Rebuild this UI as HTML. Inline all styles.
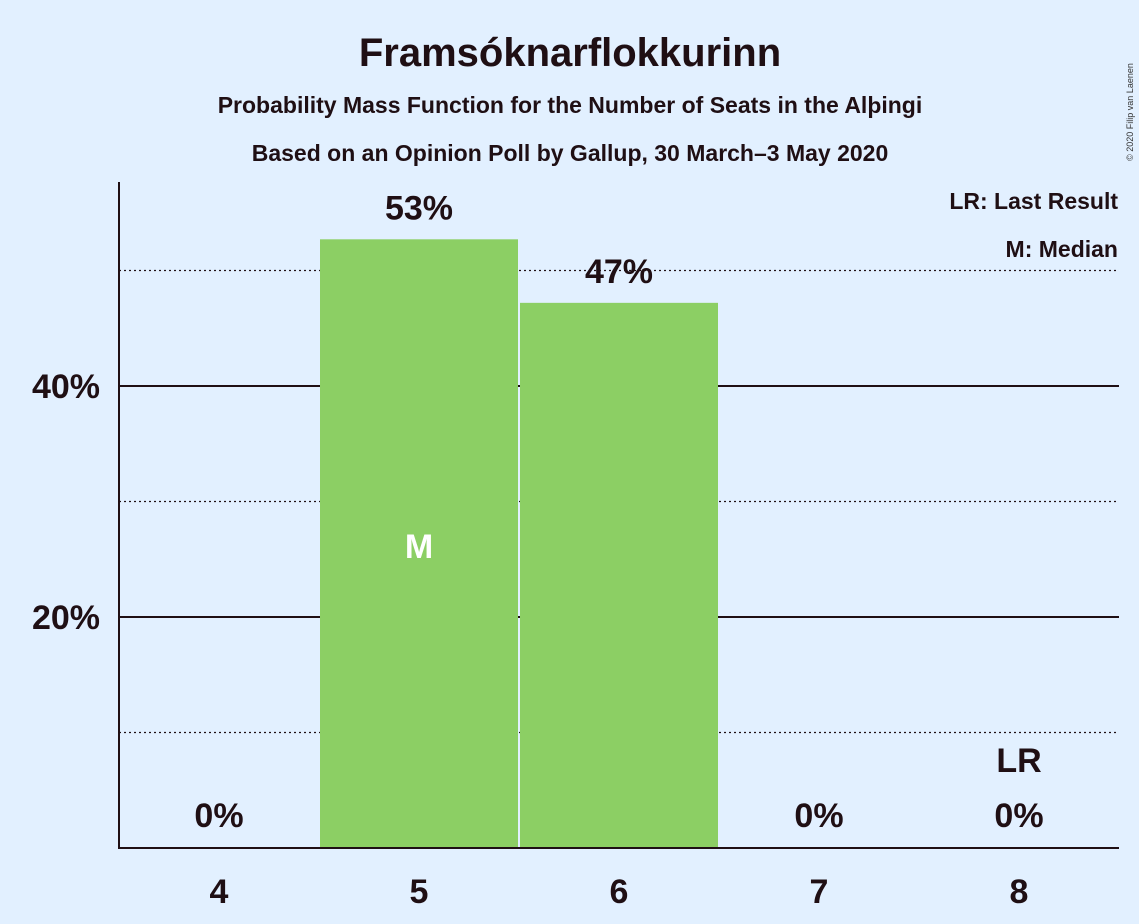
<!DOCTYPE html>
<html><head><meta charset="utf-8"><style>
body{margin:0;background:#e2f0ff;}
svg{display:block;font-family:"Liberation Sans",sans-serif;}
</style></head><body>
<svg width="1139" height="924" viewBox="0 0 1139 924">
<rect width="1139" height="924" fill="#e2f0ff"/>
<text x="570" y="66" text-anchor="middle" font-size="40" font-weight="bold" fill="#1f0f14">Framsóknarflokkurinn</text>
<text x="570" y="113" text-anchor="middle" font-size="23" font-weight="bold" fill="#1f0f14">Probability Mass Function for the Number of Seats in the Alþingi</text>
<text x="570" y="161" text-anchor="middle" font-size="23" font-weight="bold" fill="#1f0f14">Based on an Opinion Poll by Gallup, 30 March–3 May 2020</text>
<text x="1133" y="112" font-size="9" fill="#333" transform="rotate(-90 1133 112)" text-anchor="middle">© 2020 Filip van Laenen</text>
<g id="grid"></g>
<g id="bars"></g>
<g id="labels"></g>
<line x1="119" y1="182" x2="119" y2="849" stroke="#1f0f14" stroke-width="2"/>
<line x1="118" y1="848" x2="1119" y2="848" stroke="#1f0f14" stroke-width="2"/>
<text x="1118" y="209" text-anchor="end" font-size="23" font-weight="bold" fill="#1f0f14">LR: Last Result</text>
<text x="1118" y="257" text-anchor="end" font-size="23" font-weight="bold" fill="#1f0f14">M: Median</text>
</svg>
<script>
const categories=[4,5,6,7,8];
const values=[0,52.7,47.2,0,0];
const valueLabels=["0%","53%","47%","0%","0%"];
const solidTicks=[20,40];
const dottedTicks=[10,30,50];
const medianSeat=5;
const lastResultSeat=8;
const NS="http://www.w3.org/2000/svg";
const y=v=>848-v*11.55;
const x=c=>219+(c-4)*200;
function mk(tag,attrs,parent,text){const e=document.createElementNS(NS,tag);for(const k in attrs)e.setAttribute(k,attrs[k]);if(text!==undefined)e.textContent=text;document.getElementById(parent).appendChild(e);return e;}
dottedTicks.forEach(t=>{const l=mk('line',{x1:119,x2:1119,y1:y(t),y2:y(t),stroke:'#1f0f14','stroke-width':1.3,'stroke-dasharray':'2,3'},'grid');

});
solidTicks.forEach(t=>{const l=mk('line',{x1:119,x2:1119,y1:y(t),y2:y(t),stroke:'#1f0f14','stroke-width':2},'grid');


const tx=mk('text',{x:100,y:y(t)+12,'text-anchor':'end','font-size':34,'font-weight':'bold',fill:'#1f0f14'},'grid',t+'%');

});
categories.forEach((c,i)=>{
 const v=values[i];
 if(v>0){const r=mk('rect',{x:x(c)-100+1,y:y(v),width:198,height:848-y(v),fill:'#8ccf64'},'bars');
 
 }
 const lbl=mk('text',{x:x(c),y:(v>0?y(v)-20:827),'text-anchor':'middle','font-size':34,'font-weight':'bold',fill:'#1f0f14'},'labels',valueLabels[i]);
 
 
 const xt=mk('text',{x:x(c),y:903,'text-anchor':'middle','font-size':34,'font-weight':'bold',fill:'#1f0f14'},'labels',String(c));
 
 
 if(c===medianSeat){const m=mk('text',{x:x(c),y:558,'text-anchor':'middle','font-size':34,'font-weight':'bold',fill:'#ffffff'},'labels','M');
 
 }
 if(c===lastResultSeat){const m=mk('text',{x:x(c),y:772,'text-anchor':'middle','font-size':34,'font-weight':'bold',fill:'#1f0f14'},'labels','LR');
 
 }
});
</script>
</body></html>
